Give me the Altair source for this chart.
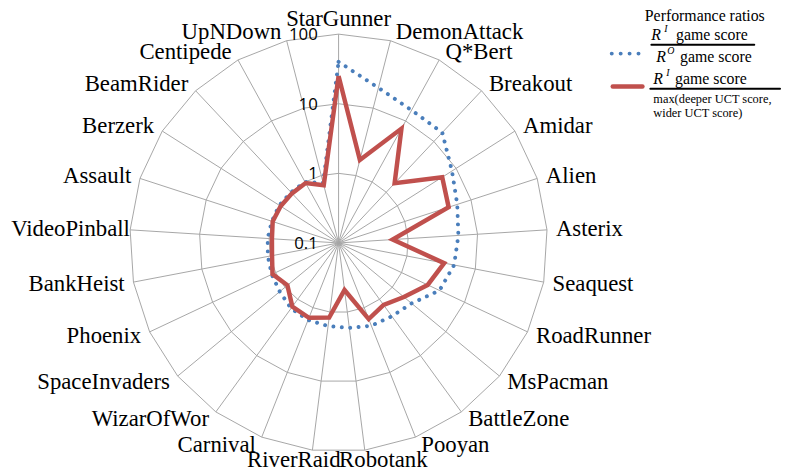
import altair as alt
import pandas as pd

# ---- data ----
games = ["StarGunner", "DemonAttack", "Q*Bert", "Breakout", "Amidar", "Alien",
         "Asterix", "Seaquest", "RoadRunner", "MsPacman", "BattleZone", "Pooyan",
         "Robotank", "RiverRaid", "Carnival", "WizarOfWor", "SpaceInvaders",
         "Phoenix", "BankHeist", "VideoPinball", "Assault", "Berzerk",
         "BeamRider", "Centipede", "UpNDown"]
ratio_vs_original = [40, 20, 15, 15, 8.5, 6.2, 5.3, 4.9, 4.0, 2.3, 2.0, 1.9,
                     1.7, 1.6, 1.55, 1.45, 1.25, 1.15, 1.08, 1.05, 1.02, 1.02,
                     1.0, 1.0, 0.78]
ratio_vs_uct = [25, 1.7, 7.5, 1.5, 5.8, 4.6, 0.6, 3.5, 2.6, 1.65, 1.26, 1.5,
                0.48, 1.2, 1.43, 1.35, 0.9, 1.12, 0.94, 0.91, 0.99, 0.97,
                0.95, 0.96, 0.72]
tick_values = [0.1, 1, 10, 100]
tick_labels = ["0.1", "1", "10", "100"]

# ---- layout ----
W, H = 781, 463
CX, CY = 334, 235          # centre of the radar in view pixels
RD = 70.33                 # pixels per decade
R = 3 * RD
N = len(games)
SERIF = "Liberation Serif"

xs = alt.Scale(domain=[0, W], nice=False, zero=False)
ys = alt.Scale(domain=[0, H], nice=False, zero=False, reverse=True)
X = lambda f: alt.X(f, scale=xs, axis=None)
Y = lambda f: alt.Y(f, scale=ys, axis=None)

theta = f"datum.idx * 2 * PI / {N}"
radius_of = lambda f: f"{RD} * (log({f}) / LN10 + 1)"

# spokes
spoke_df = pd.DataFrame({"idx": range(N), "game": games})
spokes = alt.Chart(spoke_df).transform_calculate(
    t=theta
).transform_calculate(
    x0=f"{CX}", y0=f"{CY}",
    x1=f"{CX} + {R} * sin(datum.t)",
    y1=f"{CY} - {R} * cos(datum.t)",
).mark_rule(color="#a6a6a6", strokeWidth=1).encode(
    x=X("x0:Q"), y=Y("y0:Q"), x2="x1:Q", y2="y1:Q",
)

# rings
ring_rows = []
for v in tick_values[1:]:
    for i in range(N + 1):
        ring_rows.append({"ring": v, "idx": i % N, "ord": i})
ring_df = pd.DataFrame(ring_rows)
rings = alt.Chart(ring_df).transform_calculate(
    t=theta, r=radius_of("datum.ring")
).transform_calculate(
    x=f"{CX} + datum.r * sin(datum.t)",
    y=f"{CY} - datum.r * cos(datum.t)",
).mark_line(color="#a6a6a6", strokeWidth=1).encode(
    x=X("x:Q"), y=Y("y:Q"), detail="ring:N", order="ord:Q",
)

# series
rows = []
for name, vals in [("orig", ratio_vs_original), ("uct", ratio_vs_uct)]:
    for i in range(N + 1):
        rows.append({"series": name, "idx": i % N, "ord": i, "v": vals[i % N]})
ser_df = pd.DataFrame(rows)

def series_layer(name):
    return alt.Chart(ser_df).transform_filter(
        f"datum.series == '{name}'"
    ).transform_calculate(
        t=theta, r=radius_of("datum.v")
    ).transform_calculate(
        x=f"{CX} + datum.r * sin(datum.t)",
        y=f"{CY} - datum.r * cos(datum.t)",
    )

blue = series_layer("orig").mark_line(
    color="#4a7ebb", strokeWidth=4, strokeDash=[0.01, 8.5], strokeCap="round"
).encode(x=X("x:Q"), y=Y("y:Q"), order="ord:Q")
red = series_layer("uct").mark_line(
    color="#c0504d", strokeWidth=4.5, strokeJoin="miter"
).encode(x=X("x:Q"), y=Y("y:Q"), order="ord:Q")

# category labels
def label_layer(cond, align):
    return alt.Chart(spoke_df).transform_calculate(
        t=theta
    ).transform_calculate(
        s="sin(datum.t)", c="cos(datum.t)"
    ).transform_calculate(
        px=f"{CX} + {R} * datum.s", py=f"{CY} - {R} * datum.c",
        off="4 + 5 * abs(datum.s)",
        minx="length(datum.game) * 10.6 - 4",
    ).transform_calculate(
        lx="abs(datum.s) < 0.15 ? datum.px + datum.s * 150 : "
           "(datum.s > 0 ? datum.px + datum.off : max(datum.px - datum.off, datum.minx))",
        ly="abs(datum.s) < 0.15 ? (datum.c > 0 ? datum.py - 15 : datum.py + 10) : "
           "datum.py - datum.c * 9",
    ).transform_filter(cond).mark_text(
        font=SERIF, fontSize=23, color="black", align=align, baseline="middle"
    ).encode(x=X("lx:Q"), y=Y("ly:Q"), text="game:N")

labels_c = label_layer("abs(datum.s) < 0.15", "center")
labels_l = label_layer("datum.s >= 0.15", "left")
labels_r = label_layer("datum.s <= -0.15", "right")

# radial tick labels
tick_df = pd.DataFrame({"v": tick_values, "label": tick_labels})
ticks = alt.Chart(tick_df).transform_calculate(
    r=radius_of("datum.v")
).transform_calculate(
    x=f"{CX} - 21", y=f"{CY} - datum.r + 1"
).mark_text(font="Open Sans", fontSize=17, color="black", align="right",
            baseline="middle").encode(x=X("x:Q"), y=Y("y:Q"), text="label:N")

# ---- legend ----
def txt(s, x, y, size=16, italic=False, align="left"):
    return alt.Chart(spoke_df.head(1)).mark_text(
        font=SERIF, fontSize=size, fontStyle="italic" if italic else "normal",
        color="black", align=align, baseline="middle"
    ).encode(x=alt.value(x), y=alt.value(y), text=alt.value(s))

def rule(x1, x2, y, color, width, dash=None):
    kw = dict(color=color, strokeWidth=width, strokeCap="round")
    if dash:
        kw["strokeDash"] = dash
    return alt.Chart(spoke_df.head(1)).mark_rule(**kw).encode(
        x=alt.value(x1), x2=alt.value(x2), y=alt.value(y))

legend = [
    txt("Performance ratios", 704, 6, 16, align="center"),
    rule(610, 638, 43.7, "#4a7ebb", 4, [0.01, 9]),
    rule(611, 641, 77, "#c0504d", 4.5),
    txt("R", 650, 25, 16, True), txt("I", 663, 19, 10, True), txt("game score", 675, 25),
    rule(650, 754, 34.7, "black", 2),
    txt("R", 655, 47, 16, True), txt("O", 666, 41, 10, True), txt("game score", 679, 47),
    txt("R", 652, 69, 16, True), txt("I", 665, 63, 10, True), txt("game score", 674, 69),
    rule(649, 780, 79.3, "black", 2),
    txt("max(deeper UCT score,", 652, 90, 12.5),
    txt("wider UCT score)", 652, 104, 12.5),
]

chart = alt.layer(spokes, rings, blue, red, labels_c, labels_l, labels_r, ticks,
                  *legend).properties(
    width=W, height=H, padding=0, autosize=alt.AutoSizeParams(type="none")
).configure_view(stroke=None)

chart.save("out.html", embed_options={"renderer": "svg", "actions": False})
